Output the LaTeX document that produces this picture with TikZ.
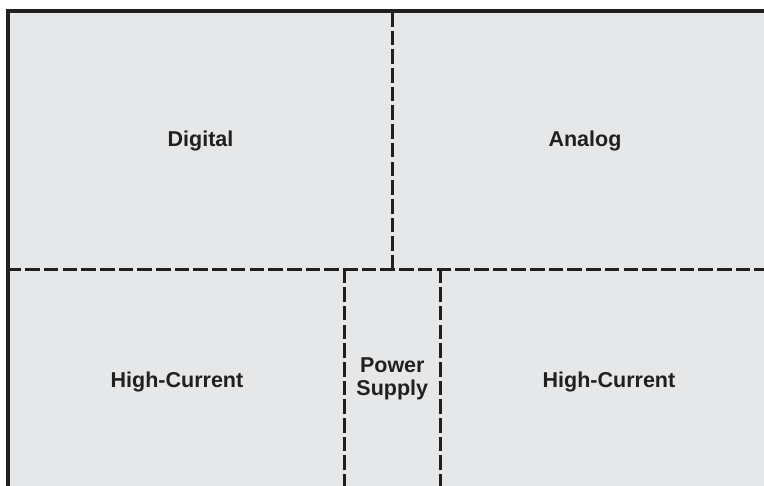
\documentclass[tikz,border=0pt]{standalone}
\usepackage{fontspec}
\setmainfont{Liberation Sans}
\definecolor{panel}{RGB}{230,231,232}
\definecolor{ink}{RGB}{35,31,32}
\tikzset{
 dash line/.style={draw=ink,line width=2.8pt,dash pattern=on 14.6pt off 4.1pt},
 frame line/.style={draw=ink,line width=4pt},
 region/.style={font=\bfseries\fontsize{21.5}{23}\selectfont,text=ink,align=center,inner sep=0pt}
}
\begin{document}
\begin{tikzpicture}[x=1pt,y=-1pt]
\useasboundingbox (0,0) rectangle (764,486);
\fill[white] (0,0) rectangle (764,486);
\fill[panel] (8,11) rectangle (764,486);
\coordinate (tl) at (8,486);
\coordinate (tm) at (8,11);
\coordinate (tr) at (764,11);
\coordinate (ml) at (8,269.7);
\coordinate (mr) at (764,269.7);
\coordinate (vt) at (392.2,11);
\coordinate (vb) at (392.2,269.7);
\coordinate (p1t) at (344.3,268.5);
\coordinate (p1b) at (344.3,486);
\coordinate (p2t) at (440.3,268.5);
\coordinate (p2b) at (440.3,486);
\draw[dash line,dash phase=1.6pt] (ml) -- (mr);
\draw[dash line] (vb) -- (vt);
\draw[dash line] (p1t) -- (p1b);
\draw[dash line] (p2t) -- (p2b);
\draw[frame line] (tl) -- (tm) -- (tr);
\node[region] (digital) at (200.5,141) {Digital};
\node[region] (analog) at (585,141) {Analog};
\node[region] (hc1) at (177,382) {High-Current};
\node[region] (ps) at (392.3,379) {Power\\Supply};
\node[region] (hc2) at (609,382) {High-Current};
\end{tikzpicture}
\end{document}
